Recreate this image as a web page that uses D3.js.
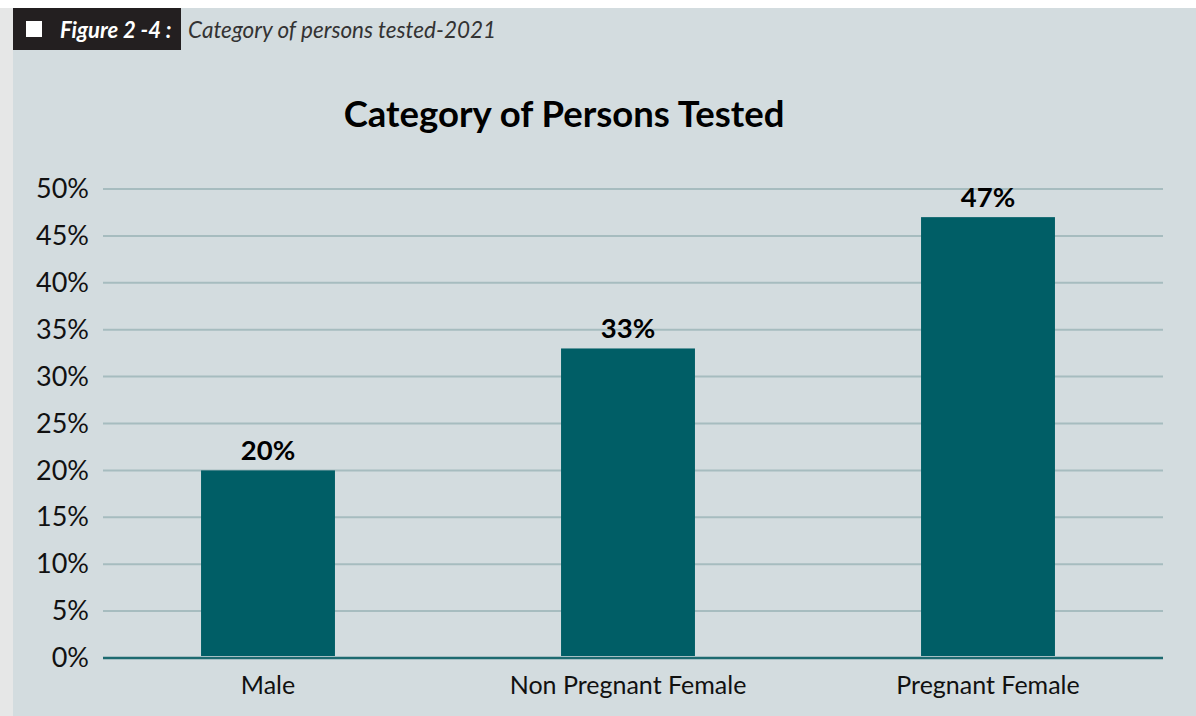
<!DOCTYPE html>
<html>
<head>
<meta charset="utf-8">
<script src="https://cdn.jsdelivr.net/npm/d3@7"></script>
<style>
  html, body { margin: 0; padding: 0; background: #ffffff; }
  svg { display: block; }
</style>
</head>
<body>
<svg id="chart" width="1196" height="716"></svg>
<script>
// Share of persons tested in 2021, by category
const categories = ["Male", "Non Pregnant Female", "Pregnant Female"];
const shares = [20, 33, 47];
const yTicks = [0, 5, 10, 15, 20, 25, 30, 35, 40, 45, 50];

const figureTag = "Figure 2 -4 :";
const figureCaption = "Category of persons tested-2021";
const chartTitle = "Category of Persons Tested";

const W = 1196, H = 716;
const font = "Lato, 'Open Sans', sans-serif";
const svg = d3.select("#chart");

// page frame: white top strip, pale grey left strip, blue-grey panel
svg.append("rect").attr("x", 0).attr("y", 0).attr("width", W).attr("height", H).attr("fill", "#ffffff");
svg.append("rect").attr("x", 0).attr("y", 8).attr("width", 13).attr("height", H - 8).attr("fill", "#e6e7e7");
svg.append("rect").attr("x", 13).attr("y", 8).attr("width", W - 13).attr("height", H - 8).attr("fill", "#d3dcdf");

// figure tag box
svg.append("rect").attr("x", 13).attr("y", 8).attr("width", 168).attr("height", 42).attr("fill", "#231f20");
svg.append("rect").attr("x", 26).attr("y", 21).attr("width", 16).attr("height", 16).attr("fill", "#ffffff");
svg.append("text").attr("x", 60).attr("y", 38)
  .attr("font-family", font).attr("font-size", 22).attr("font-weight", 700).attr("font-style", "italic")
  .attr("fill", "#ffffff").text(figureTag);
svg.append("text").attr("x", 188).attr("y", 38)
  .attr("font-family", font).attr("font-size", 22.5).attr("font-style", "italic")
  .attr("fill", "#333333").text(figureCaption);

// chart title
svg.append("text").attr("x", 564).attr("y", 127).attr("text-anchor", "middle")
  .attr("font-family", font).attr("font-size", 36.5).attr("font-weight", 700)
  .attr("fill", "#000000").text(chartTitle);

// scales
const x = d3.scaleBand().domain(categories).range([88, 1168]).padding(0);
const barWidth = x.bandwidth() * 0.372;
const y = d3.scaleLinear().domain([0, 50]).range([658, 189]);
const gridX0 = 103, gridX1 = 1163;

// horizontal gridlines
svg.append("g").selectAll("line").data(yTicks.filter(t => t > 0)).join("line")
  .attr("x1", gridX0).attr("x2", gridX1)
  .attr("y1", d => y(d)).attr("y2", d => y(d))
  .attr("stroke", "#a6bcbf").attr("stroke-width", 2);

// y axis labels
const yAxis = d3.axisLeft(y).tickValues(yTicks).tickFormat(d => d + "%").tickSize(0).tickPadding(0);
const yg = svg.append("g").attr("transform", "translate(89,0)").call(yAxis);
yg.select(".domain").remove();
yg.selectAll("text").attr("font-family", font).attr("font-size", 27).attr("fill", "#111111");

// bars
svg.append("g").selectAll("rect").data(shares).join("rect")
  .attr("x", (d, i) => x(categories[i]) + (x.bandwidth() - barWidth) / 2)
  .attr("width", barWidth)
  .attr("y", d => y(d))
  .attr("height", d => y(0) - 2 - y(d))
  .attr("fill", "#005e66");

// baseline
svg.append("line").attr("x1", gridX0).attr("x2", gridX1).attr("y1", y(0)).attr("y2", y(0))
  .attr("stroke", "#1d6a70").attr("stroke-width", 2.5);

// value labels
svg.append("g").selectAll("text").data(shares).join("text")
  .attr("x", (d, i) => x(categories[i]) + x.bandwidth() / 2)
  .attr("y", d => y(d) - 10)
  .attr("text-anchor", "middle")
  .attr("font-family", font).attr("font-size", 27.5).attr("font-weight", 700)
  .attr("fill", "#000000")
  .text(d => d + "%");

// category labels
const xAxis = d3.axisBottom(x).tickSize(0).tickPadding(0);
const xg = svg.append("g").attr("transform", "translate(0,674)").call(xAxis);
xg.select(".domain").remove();
xg.selectAll("text").attr("font-family", font).attr("font-size", 25).attr("fill", "#111111").attr("dy", "0.8em");
</script>
</body>
</html>
